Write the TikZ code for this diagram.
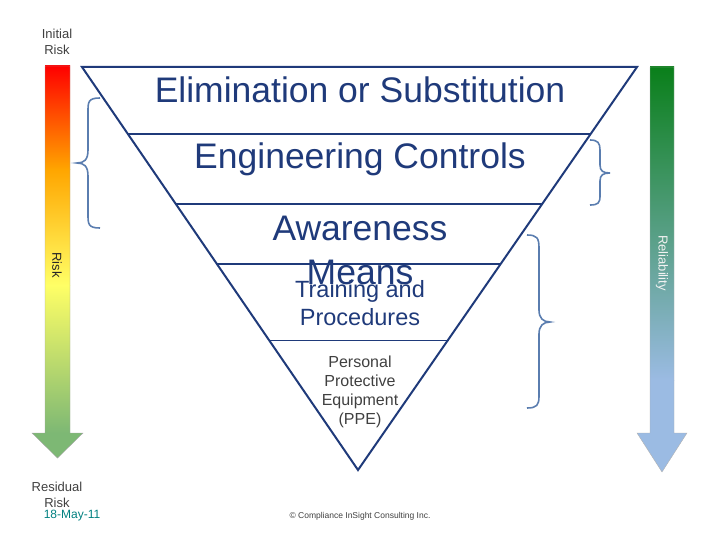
\documentclass[tikz,border=0pt]{standalone}
\usepackage{fontspec}
\setmainfont{Liberation Sans}
\begin{document}
\begin{tikzpicture}[x=1pt,y=-1pt]
\definecolor{navy}{HTML}{1F3A7A}
\definecolor{brc}{HTML}{5A7DAF}
\definecolor{gtx}{HTML}{404040}
\definecolor{lg}{HTML}{7DB874}
\tikzset{big/.style={font=\fontsize{35.5}{44}\selectfont,text=navy,inner sep=0,align=center},
 tp/.style={font=\fontsize{23.5}{28}\selectfont,text=navy,inner sep=0,align=center},
 sm/.style={font=\fontsize{16}{19}\selectfont,text=gtx,inner sep=0,align=center},
 brace/.style={draw=brc,line width=1.6pt},
 lay/.style={draw=navy,line width=2pt}}
\useasboundingbox (0,0) rectangle (720,540);
% left arrow
\shade[top color=red,bottom color=orange!70!yellow] (45,66) rectangle (70,170);
\shade[top color=orange!70!yellow,bottom color=yellow!60] (45,170) rectangle (70,285);
\shade[top color=yellow!60,bottom color=lg] (45,285) rectangle (70,433);
\fill[lg] (32,433) -- (83,433) -- (57.5,458) -- cycle;
\draw[gray!70] (45,66) -- (45,433) -- (32,433) -- (57.5,458) -- (83,433) -- (70,433) -- (70,66) -- cycle;
% right arrow
\definecolor{rg}{HTML}{0A7F1A}\definecolor{rb}{HTML}{9BBBE3}
\shade[top color=rg,bottom color=rb] (650,67) rectangle (674,380);
\fill[rb] (650,380) rectangle (674,433) (637,433) -- (687,433) -- (662,472) -- cycle;
\draw[gray!60] (650,67) -- (650,433) -- (637,433) -- (662,472) -- (687,433) -- (674,433) -- (674,67) -- cycle;
% triangle
\draw[lay] (82,67) -- (637,67) -- (358,470) -- cycle;
\draw[lay] (128,134) -- (591,134);
\draw[lay] (176,204) -- (542,204);
\draw[lay] (217,264) -- (501,264);
\draw[navy,line width=1pt] (269,340) -- (449,340);
% braces
\draw[brace] (100,98) .. controls (88,98) and (88,102) .. (88,112) -- (88,150) .. controls (88,160) and (84,163) .. (77,163) .. controls (84,163) and (88,166) .. (88,176) -- (88,214) .. controls (88,224) and (88,228) .. (100,228);
\draw[brace] (590,140) .. controls (598,140) and (600,143) .. (600,150) -- (600,165) .. controls (600,171) and (603,173) .. (610,173) .. controls (603,173) and (600,175) .. (600,181) -- (600,196) .. controls (600,203) and (598,205) .. (590,205);
\draw[brace] (527,235) .. controls (537,235) and (539,238) .. (539,248) -- (539,310) .. controls (539,318) and (543,322) .. (550,322) .. controls (543,322) and (539,326) .. (539,334) -- (539,396) .. controls (539,405) and (537,408) .. (527,408);
% texts
\node[sm,font=\fontsize{13}{16}\selectfont] (ir) at (57,42) {Initial\\Risk};
\node[sm,font=\fontsize{13}{16}\selectfont] (rr) at (57,495) {Residual\\Risk};
\node[font=\fontsize{12}{14}\selectfont,text=teal,inner sep=0] (dt) at (72,516) {18-May-11};
\node[font=\fontsize{8.5}{10}\selectfont,text=gtx,inner sep=0] (cp) at (360,516) {© Compliance InSight Consulting Inc.};
\node[big] (el) at (360,90) {Elimination or Substitution};
\node[big] (ec) at (360,159) {Engineering Controls};
\node[big] (am) at (360,250) {Awareness\\Means};
\node[tp] (tr) at (360,303) {Training and\\Procedures};
\node[sm] (pp) at (360,392) {Personal\\Protective\\Equipment\\(PPE)};
\node[rotate=-90,font=\fontsize{13}{14}\selectfont,text=black!85,inner sep=0] (rk) at (57,265) {Risk};
\node[rotate=-90,font=\fontsize{13}{14}\selectfont,text=white!90!gray,inner sep=0] (rl) at (662,263) {Reliability};
\end{tikzpicture}
\end{document}
